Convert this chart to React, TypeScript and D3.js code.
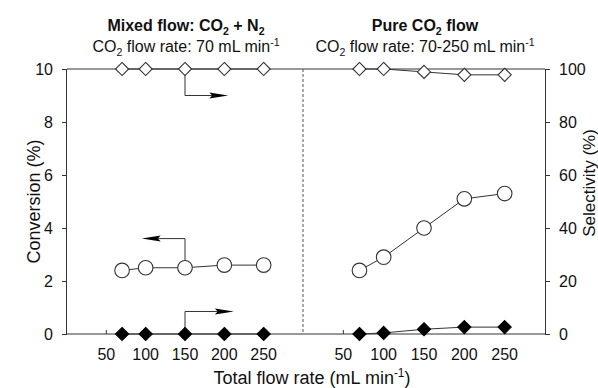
import { useEffect, useRef } from 'react';
import * as d3 from 'd3';

// flow rates (mL/min) used on both panels
const flowRates = [70, 100, 150, 200, 250];
const xTicks = [50, 100, 150, 200, 250];
const convTicks = [0, 2, 4, 6, 8, 10];
const selTicks = [0, 20, 40, 60, 80, 100];

// mixed flow: CO2 + N2
const mixedConversion = [2.4, 2.5, 2.5, 2.6, 2.6];
const mixedSelHigh = [100, 100, 100, 100, 100];
const mixedSelLow = [0, 0, 0, 0, 0];

// pure CO2 flow
const pureConversion = [2.4, 2.9, 4.0, 5.1, 5.3];
const pureSelHigh = [100, 100, 98.9, 97.8, 97.8];
const pureSelLow = [0, 0.4, 1.8, 2.6, 2.6];

const FONT = 'Liberation Sans, Arial, sans-serif';
const INK = '#333';

function App() {
  const ref = useRef<SVGSVGElement>(null);

  useEffect(() => {
    document.body.style.margin = '0';
    draw();
    // eslint-disable-next-line
  }, []);

  function draw() {
    const cfg = { left: 67, mid: 303, right: 545, top: 69, bottom: 334 };
    const svg = d3.select(ref.current);
    svg.selectAll('*').remove();

    const xL = d3.scaleLinear().domain([0, 300]).range([cfg.left, cfg.mid]);
    const xR = d3.scaleLinear().domain([0, 300]).range([cfg.mid, cfg.right]);
    const yC = d3.scaleLinear().domain([0, 10]).range([cfg.bottom, cfg.top]);
    const yS = d3.scaleLinear().domain([0, 100]).range([cfg.bottom, cfg.top]);

    // frame: top line, divider
    svg.append('line')
      .attr('x1', cfg.left).attr('x2', cfg.right)
      .attr('y1', cfg.top).attr('y2', cfg.top)
      .attr('stroke', INK).attr('stroke-width', 1);
    svg.append('line')
      .attr('x1', cfg.mid).attr('x2', cfg.mid)
      .attr('y1', cfg.top).attr('y2', cfg.bottom)
      .attr('stroke', '#555').attr('stroke-width', 1)
      .attr('stroke-dasharray', '3,2');

    // left y axis
    const yAxisL = d3.axisLeft(yC).tickValues(convTicks).tickSize(5).tickPadding(9);
    svg.append('g')
      .attr('transform', `translate(${cfg.left},0)`)
      .call(yAxisL)
      .call(g => g.select('.domain').attr('d', `M-0.5,${cfg.top}V${cfg.bottom}`))
      .call(g => g.selectAll('line').attr('stroke', INK))
      .call(g => g.selectAll('path').attr('stroke', INK))
      .call(g => g.selectAll('text').attr('font-size', 16).attr('font-family', FONT).attr('fill', '#111'));

    // right y axis
    const yAxisR = d3.axisRight(yS).tickValues(selTicks).tickSize(5).tickPadding(9);
    svg.append('g')
      .attr('transform', `translate(${cfg.right},0)`)
      .call(yAxisR)
      .call(g => g.select('.domain').attr('d', `M0.5,${cfg.top}V${cfg.bottom}`))
      .call(g => g.selectAll('line').attr('stroke', INK))
      .call(g => g.selectAll('path').attr('stroke', INK))
      .call(g => g.selectAll('text').attr('font-size', 16).attr('font-family', FONT).attr('fill', '#111'));

    // bottom axes (ticks pointing inward)
    svg.append('line')
      .attr('x1', cfg.left).attr('x2', cfg.right)
      .attr('y1', cfg.bottom).attr('y2', cfg.bottom)
      .attr('stroke', INK);
    [xL, xR].forEach(x => {
      const g = svg.append('g');
      g.selectAll('line').data(xTicks).join('line')
        .attr('x1', d => x(d)).attr('x2', d => x(d))
        .attr('y1', cfg.bottom).attr('y2', cfg.bottom - 4)
        .attr('stroke', INK);
      g.selectAll('text').data(xTicks).join('text')
        .attr('x', d => x(d)).attr('y', cfg.bottom + 26)
        .attr('text-anchor', 'middle')
        .attr('font-size', 16).attr('font-family', FONT).attr('fill', '#111')
        .text(d => d);
    });

    const diamond = d3.symbol().type(d3.symbolDiamond2).size(110);
    const pathLine = (x: d3.ScaleLinear<number, number>, y: d3.ScaleLinear<number, number>) =>
      d3.line<number>().x((_, i) => x(flowRates[i])).y(d => y(d));

    function series(x: d3.ScaleLinear<number, number>, y: d3.ScaleLinear<number, number>, vals: number[], kind: string) {
      svg.append('path')
        .datum(vals)
        .attr('d', pathLine(x, y))
        .attr('fill', 'none').attr('stroke', INK).attr('stroke-width', 1);
      const g = svg.append('g');
      if (kind === 'circle') {
        g.selectAll('circle').data(vals).join('circle')
          .attr('cx', (_, i) => x(flowRates[i])).attr('cy', d => y(d))
          .attr('r', 7.3).attr('fill', '#fff').attr('stroke', INK).attr('stroke-width', 1.1);
      } else {
        g.selectAll('path').data(vals).join('path')
          .attr('d', diamond)
          .attr('transform', (d, i) => `translate(${x(flowRates[i])},${y(d)})`)
          .attr('fill', kind === 'open' ? '#fff' : '#000')
          .attr('stroke', kind === 'open' ? INK : '#000').attr('stroke-width', 1.1);
      }
    }

    // arrows (annotations pointing to the axis each series belongs to)
    function arrow(x0: number, y0: number, yTurn: number, xEnd: number) {
      const dir = xEnd > x0 ? 1 : -1;
      svg.append('path')
        .attr('d', `M${x0},${y0}V${yTurn}H${xEnd - dir * 16}`)
        .attr('fill', 'none').attr('stroke', INK).attr('stroke-width', 1);
      svg.append('path')
        .attr('d', `M${xEnd},${yTurn}L${xEnd - dir * 19},${yTurn - 3}L${xEnd - dir * 16},${yTurn}L${xEnd - dir * 19},${yTurn + 3}Z`)
        .attr('fill', '#000');
    }
    arrow(xL(150), yS(100), yC(9.0), xL(205));
    arrow(xL(150), yC(2.5), yC(3.6), xL(95));
    arrow(xL(150), yC(0), yC(0.85), xL(212));

    series(xL, yC, mixedConversion, 'circle');
    series(xL, yS, mixedSelHigh, 'open');
    series(xL, yS, mixedSelLow, 'filled');
    series(xR, yC, pureConversion, 'circle');
    series(xR, yS, pureSelHigh, 'open');
    series(xR, yS, pureSelLow, 'filled');

    // titles with sub/superscripts
    const title = (cx: number, y: number, bold: boolean, size: number, parts: [string, string][]) => {
      const t = svg.append('text')
        .attr('x', cx).attr('y', y)
        .attr('text-anchor', 'middle')
        .attr('font-family', FONT).attr('font-size', size)
        .attr('font-weight', bold ? 'bold' : 'normal')
        .attr('fill', '#111');
      const small = size * 0.66;
      parts.forEach(([s, kind]) => {
        const ts = t.append('tspan').text(s);
        if (kind === 'sub') ts.attr('font-size', small).attr('dy', size * 0.25);
        else if (kind === 'sup') ts.attr('font-size', small).attr('dy', -size * 0.38);
        else if (kind === 'back-sub') ts.attr('dy', -size * 0.25);
        else if (kind === 'back-sup') ts.attr('dy', size * 0.38);
      });
    };
    const cL = (cfg.left + cfg.mid) / 2;
    const cR = (cfg.mid + cfg.right) / 2;
    title(cL + 1, 31, true, 16, [['Mixed flow: CO', ''], ['2', 'sub'], [' + N', 'back-sub'], ['2', 'sub']]);
    title(cL + 1, 52, false, 16, [['CO', ''], ['2', 'sub'], [' flow rate: 70 mL min', 'back-sub'], ['-1', 'sup']]);
    title(cR + 1, 31, true, 16, [['Pure CO', ''], ['2', 'sub'], [' flow', 'back-sub']]);
    title(cR + 1, 52, false, 16, [['CO', ''], ['2', 'sub'], [' flow rate: 70-250 mL min', 'back-sub'], ['-1', 'sup']]);

    // axis titles
    title(312, 384, false, 18, [['Total flow rate (mL min', ''], ['-1', 'sup'], [')', 'back-sup']]);
    svg.append('text')
      .attr('transform', `translate(40,${(cfg.top + cfg.bottom) / 2}) rotate(-90)`)
      .attr('text-anchor', 'middle')
      .attr('font-family', FONT).attr('font-size', 18).attr('fill', '#111')
      .text('Conversion (%)');
    svg.append('text')
      .attr('transform', `translate(595,${yS(57)}) rotate(-90)`)
      .attr('text-anchor', 'middle')
      .attr('font-family', FONT).attr('font-size', 17).attr('fill', '#111')
      .text('Selectivity (%)');
  }

  return (
    <div>
      <svg ref={ref} width={598} height={388} style={{ display: 'block', background: '#fff' }} />
    </div>
  );
}

export default App;
